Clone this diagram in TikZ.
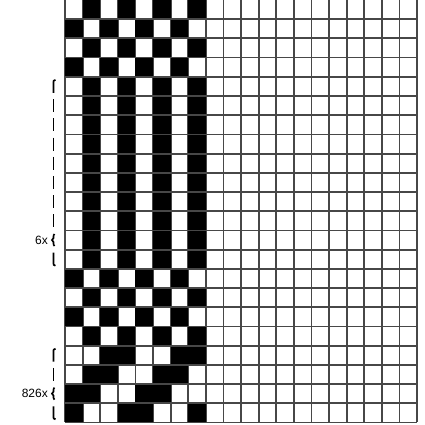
\documentclass[tikz,border=0pt]{standalone}
\usepackage{fontspec}
\setmainfont{Liberation Sans}
\usetikzlibrary{positioning,calc}
\definecolor{DraftGrid}{HTML}{474747}
\definecolor{DraftInk}{HTML}{000000}
\newcommand{\cw}{17.6}
\newcommand{\ch}{19.2}
\newcommand{\gx}{65}
\tikzset{
  gridline/.style={draw=DraftGrid,line width=1.8pt},
  inkcell/.style={fill=DraftInk},
  repbrace/.style={draw=DraftInk,line width=1.7pt},
  replabel/.style={font=\fontsize{12}{14}\selectfont,anchor=east,inner sep=0pt}
}

\begin{document}
\begin{tikzpicture}[x=1pt,y={(0pt,-1pt)}]
  \useasboundingbox (0,0) rectangle (425,425);
  % vertical grid lines
  \foreach \c in {0,...,20}
    \draw[gridline] ({\gx+\c*\cw},0) -- ({\gx+\c*\cw},{22*\ch});
  % threading / treadling cells
  \foreach \pat [count=\r] in {
      {0,1,0,1,0,1,0,1},{1,0,1,0,1,0,1,0},{0,1,0,1,0,1,0,1},{1,0,1,0,1,0,1,0},
      {0,1,0,1,0,1,0,1},{0,1,0,1,0,1,0,1},{0,1,0,1,0,1,0,1},{0,1,0,1,0,1,0,1},
      {0,1,0,1,0,1,0,1},{0,1,0,1,0,1,0,1},{0,1,0,1,0,1,0,1},{0,1,0,1,0,1,0,1},
      {0,1,0,1,0,1,0,1},{0,1,0,1,0,1,0,1},
      {1,0,1,0,1,0,1,0},{0,1,0,1,0,1,0,1},{1,0,1,0,1,0,1,0},{0,1,0,1,0,1,0,1},
      {0,0,1,1,0,0,1,1},{0,1,1,0,0,1,1,0},{1,1,0,0,1,1,0,0},{1,0,0,1,1,0,0,1}}
    \foreach \b [count=\c] in \pat {
      \ifnum\b=1
        \fill[inkcell] ({\gx+(\c-1)*\cw},{(\r-1)*\ch}) rectangle ({\gx+\c*\cw},{\r*\ch});
      \fi
    }
  % horizontal grid lines
  \foreach \r in {1,...,22}
    \draw[gridline] (\gx,{\r*\ch}) -- ({\gx+20*\cw},{\r*\ch});

  % repeat braces
  \foreach \rtop/\rtip/\rbot in {5/13/14,19/21/22}{
    \coordinate (bt) at (53.5,{(\rtop-0.5)*\ch});
    \draw[repbrace] ($(bt)+(2,-6.5)$) .. controls ($(bt)+(0,-6)$) .. ($(bt)+(0,-2.5)$) -- ($(bt)+(0,6.5)$);
    \foreach \r in {\rtop,...,\rbot}{
      \ifnum\r>\rtop \ifnum\r<\rtip
        \draw[repbrace] (53.5,{(\r-0.5)*\ch-6.5}) -- (53.5,{(\r-0.5)*\ch+6.5});
      \fi\fi
    }
    \coordinate (bm) at (53.5,{(\rtip-0.5)*\ch});
    \draw[repbrace] ($(bm)+(1,-6)$) .. controls ($(bm)+(0,-5)$) .. ($(bm)+(0,-2)$) -- ($(bm)+(-1.5,0)$) -- ($(bm)+(0,2)$) .. controls ($(bm)+(0,5)$) .. ($(bm)+(1,6)$);
    \coordinate (bb) at (53.5,{(\rbot-0.5)*\ch});
    \draw[repbrace] ($(bb)+(0,-6.5)$) -- ($(bb)+(0,2.5)$) .. controls ($(bb)+(0,6)$) .. ($(bb)+(2,6.5)$);
  }
  \node[replabel] (rep6) at (48,240) {6x};
  \node[replabel] (rep826) at (48,{20.5*\ch}) {826x};
\end{tikzpicture}
\end{document}
